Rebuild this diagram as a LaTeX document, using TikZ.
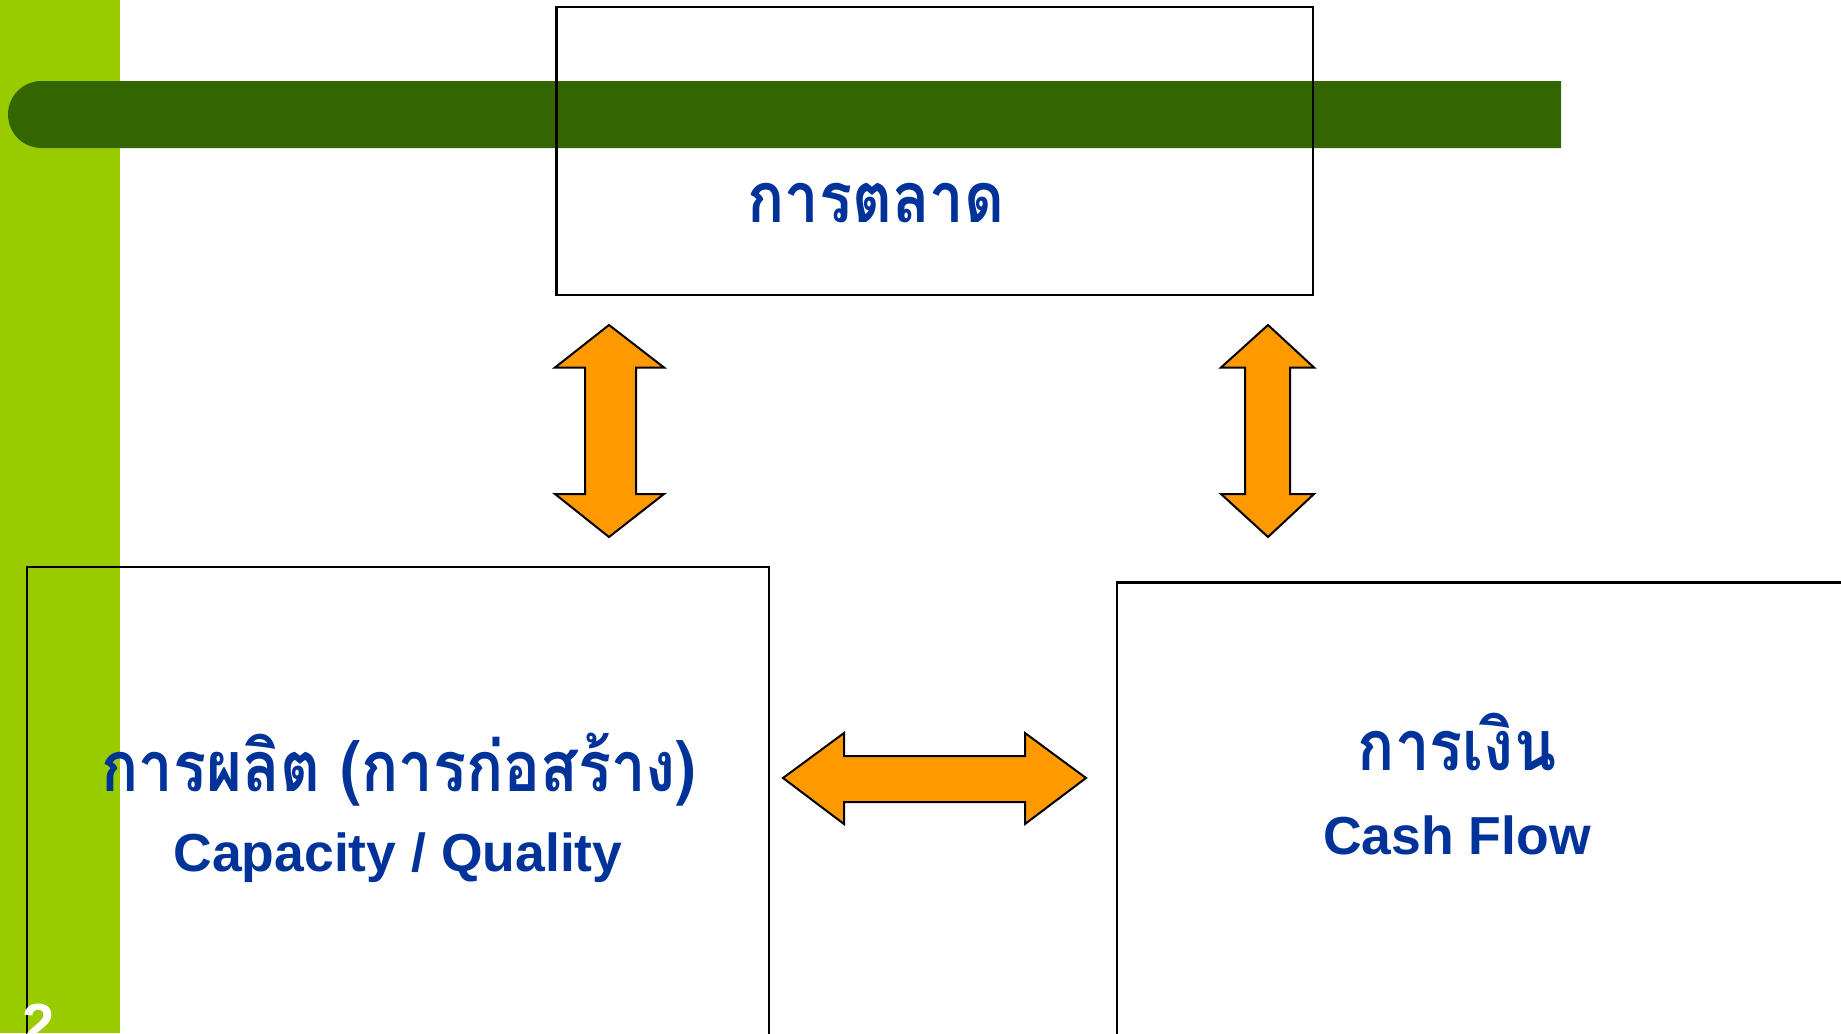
\documentclass[tikz,border=0pt]{standalone}
\usepackage{fontspec}
\setmainfont{Liberation Sans}
\newfontfamily\thaifont[Script=Thai,FakeStretch=0.88]{Loma}
\definecolor{lgreen}{HTML}{99CC00}
\definecolor{dgreen}{HTML}{336600}
\definecolor{tblue}{HTML}{003399}
\definecolor{aorange}{HTML}{FF9900}
\begin{document}
\begin{tikzpicture}[x=1pt,y=-1pt,
  boxline/.style={draw=black,line width=2.2pt},
  blockarrow/.style={draw=black,fill=aorange,line width=2pt,line join=miter},
  thaitext/.style={text=tblue,font=\thaifont\bfseries\fontsize{70}{80}\selectfont,inner sep=0pt},
  engtext/.style={text=tblue,font=\bfseries\fontsize{53.5}{60}\selectfont,inner sep=0pt}]
\useasboundingbox (0,0) rectangle (1841,1033);
\clip (0,0) rectangle (1841,1033);
% background bars
\fill[lgreen] (0,0) rectangle (120,1033);
\fill[dgreen] (41.5,81) -- (1561,81) -- (1561,148) -- (41.5,148) arc[start angle=90,end angle=270,radius=33.5] -- cycle;
% boxes
\draw[boxline] (556.5,7) rectangle (1312.6,294.7);
\draw[boxline] (27,567) rectangle (769,1045);
\draw[boxline] (1116.6,582.4) rectangle (1860,1045);
% texts
\node[thaitext,anchor=base] (tmkt) at (876,222) {การตลาด};
\node[thaitext,anchor=base] (tprod) at (399,791) {การผลิต (การก่อสร้าง)};
\node[engtext,anchor=base] (eprod) at (398,871) {Capacity / Quality};
\node[thaitext,anchor=base] (tfin) at (1457,770) {การเงิน};
\node[engtext,anchor=base] (efin) at (1457,854) {Cash Flow};
\node[text=white,font=\bfseries\fontsize{58}{60}\selectfont,inner sep=0pt,anchor=north] (pnum) at (39,1004) {2};
% arrows
\draw[blockarrow] (609,325) -- (664,367.5) -- (636,367.5) -- (636,494) -- (664,494) -- (609,537) -- (555,494) -- (585,494) -- (585,367.5) -- (555,367.5) -- cycle;
\draw[blockarrow] (1268,325) -- (1314,367.5) -- (1290,367.5) -- (1290,494) -- (1314,494) -- (1268,537) -- (1221,494) -- (1245,494) -- (1245,367.5) -- (1221,367.5) -- cycle;
\draw[blockarrow] (783,778) -- (844,733) -- (844,756) -- (1025,756) -- (1025,733) -- (1086,778) -- (1025,824) -- (1025,802) -- (844,802) -- (844,824) -- cycle;
\end{tikzpicture}
\end{document}
